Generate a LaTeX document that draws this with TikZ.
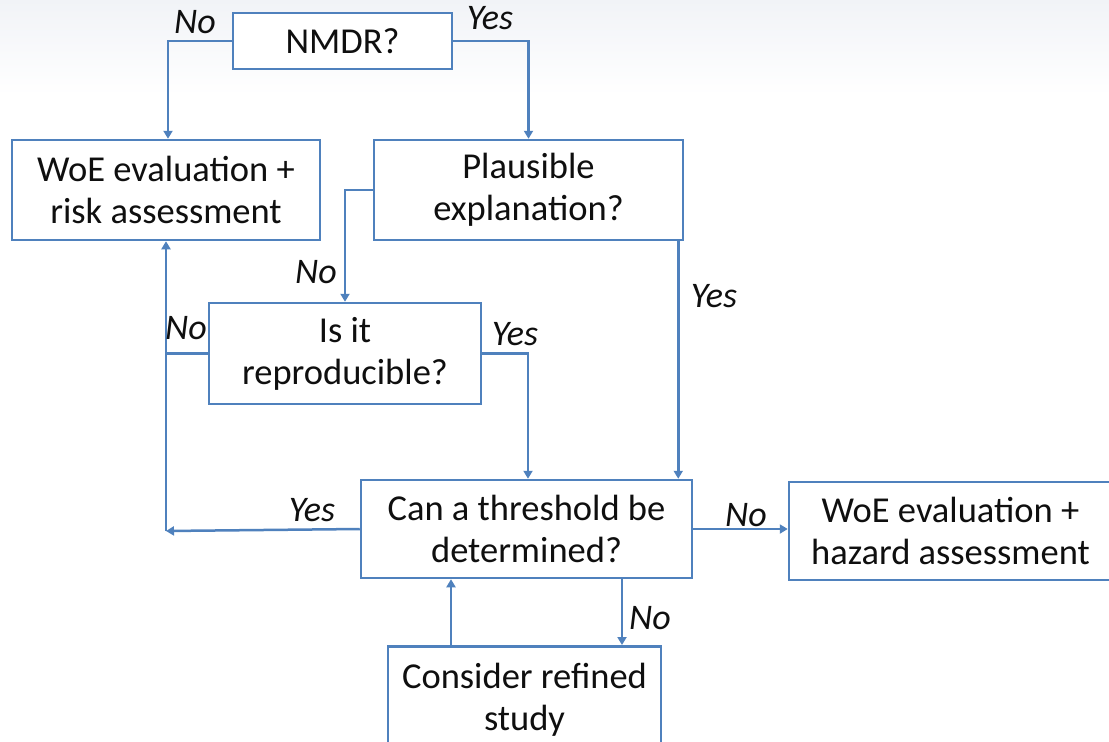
\documentclass[tikz,border=0pt]{standalone}
\usepackage{fontspec}
\setmainfont{Carlito}
\usetikzlibrary{arrows.meta,calc}
\definecolor{flowblue}{RGB}{79,129,189}
\definecolor{textgrey}{RGB}{15,15,15}
\definecolor{topshade}{RGB}{241,243,247}
\tikzset{
  box/.style={draw=flowblue, line width=2.5pt, fill=white, align=center,
    inner sep=0pt, font=\fontsize{36.5}{42}\selectfont, text=textgrey},
  link/.style={draw=flowblue, line width=2.5pt},
  arr/.style={link, -{Triangle[length=8pt,width=9pt]}},
  tag/.style={font=\fontsize{36}{40}\selectfont\itshape, text=textgrey, inner sep=0pt}
}
\begin{document}
\begin{tikzpicture}[x=1pt,y=-1pt]
  \useasboundingbox (0,0) rectangle (1109,742);
  \clip (0,0) rectangle (1109,742);
  % page background with a soft shade along the top edge
  \fill[white] (0,0) rectangle (1109,742);
  \shade[top color=topshade, bottom color=white] (0,0) rectangle (1109,95);

  % decision and outcome boxes
  \node[box, minimum width=219pt, minimum height=56pt] (nmdr) at (342.5,41) {NMDR?};
  \node[box, minimum width=308pt, minimum height=100pt] (woeR) at (166,190)
    {WoE evaluation +\\risk assessment};
  \node[box, minimum width=309pt, minimum height=100pt] (plaus) at (528.5,190)
    {Plausible\\explanation?};
  \node[box, minimum width=272pt, minimum height=101pt] (rep) at (345,353.5)
    {Is it\\reproducible?};
  \node[box, minimum width=331pt, minimum height=98pt] (thr) at (526.5,529)
    {Can a threshold be\\determined?};
  \node[box, minimum width=323pt, minimum height=98pt] (woeH) at (950.5,531)
    {WoE evaluation +\\hazard assessment};
  \node[box, minimum width=273pt, minimum height=105pt, anchor=north] (cons) at (524.5,645)
    {\raisebox{0pt}[27pt][8pt]{Consider refined}\\study};

  % connectors
  \draw[arr] (nmdr.west) -| ([xshift=2]woeR.north);
  \draw[arr] (nmdr.east) -| (plaus.north);
  \draw[arr] (plaus.west) -| (rep.north);
  \draw[arr] ([xshift=-6]plaus.south east) -- ([xshift=-15]thr.north east);
  \draw[arr] (rep.east) -| ([xshift=1.5]thr.north);
  \coordinate (join) at (166,531);
  \draw[arr] (thr.west) -- (join);
  \draw[arr] (join) -- (woeR.south);
  \draw[link] (rep.west) -- (rep.west -| join);
  \draw[arr] (thr.east) -- (thr.east -| woeH.west);
  \draw[arr] ([xshift=-73.5]cons.north) -- ([xshift=-73.5]cons.north |- thr.south);
  \draw[arr] ([xshift=95.5]thr.south) -- ([xshift=95.5]thr.south |- cons.north);

  % branch labels
  \node[tag] (l1) at (195,22) {No};
  \node[tag] (l2) at (490,18) {Yes};
  \node[tag] (l3) at (316,272) {No};
  \node[tag] (l4) at (186,328) {No};
  \node[tag] (l5) at (515,334) {Yes};
  \node[tag] (l6) at (714,296) {Yes};
  \node[tag] (l7) at (312,510) {Yes};
  \node[tag] (l8) at (746,515) {No};
  \node[tag] (l9) at (650,618) {No};
\end{tikzpicture}
\end{document}
